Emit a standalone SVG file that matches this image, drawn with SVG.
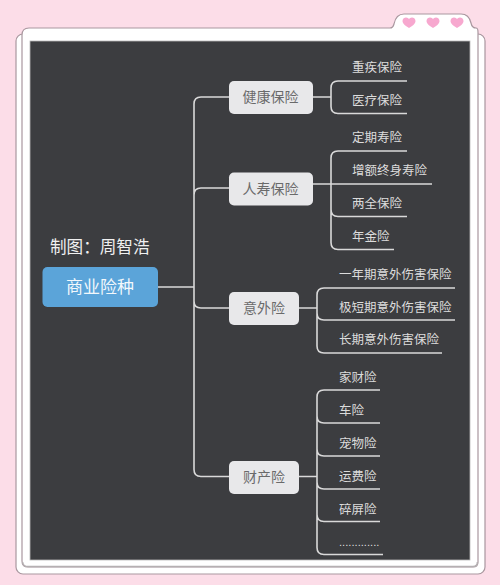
<svg xmlns="http://www.w3.org/2000/svg" width="500" height="585" viewBox="0 0 500 585">
<style>
text{font-family:"Noto Sans CJK SC","Noto Sans",sans-serif}
.frame{fill:#fff;stroke:#a9979f;stroke-width:1.2}
.c{fill:none;stroke:#d9d9d9;stroke-width:1.6}
.l{font-size:12.500px;fill:#dcdcdc}
.b rect{fill:#e8e8ea}
.b text{font-size:14px;fill:#6a6a6a;text-anchor:middle}
.h{fill:#f7a8cf}
</style>
<defs><path id="heart" d="M0 5.500C-3 3.500-6.500 1.500-6.500-1.500C-6.500-4 -4.500-5-3-5C-1.500-5-.5-4.200 0-3.200C.5-4.200 1.500-5 3-5C4.500-5 6.500-4 6.500-1.500C6.500 1.500 3 3.500 0 5.500Z"/></defs>
<rect width="500" height="585" fill="#fcdde8"/>
<g id="frame">
<rect class="frame" x="16" y="34" width="469" height="540" rx="7"/>
<path class="frame" d="M22 35Q22 28 29 28H390Q393 28 394 24Q396 14 404 14H461Q469 14 471 23Q472 28 476 28Q478 28 478 32V562Q478 567 473 567H28Q22 567 22 561Z"/>
<path d="M22.600 562Q23 566.500 28 566.600H473Q477.400 566.500 477.400 562" fill="none" stroke="#b5b0b2" stroke-width="1.500"/>
<rect x="30" y="41" width="440" height="519" fill="#3c3d40" stroke="#b8b8b8" stroke-width=".8"/>
<use href="#heart" class="h" x="409" y="22.500"/>
<use href="#heart" class="h" x="433" y="22.500"/>
<use href="#heart" class="h" x="457" y="22.500"/>
</g>
<g id="connectors">
<path class="c" d="M158 287H194M229 97H201Q194 97 194 104V469.500Q194 476.500 201 476.500H229M194 195Q194 188 201 188H229M194 301Q194 308 201 308H229"/>
<path class="c" d="M313 97H331M407 81H338Q331 81 331 88V106.500Q331 113.500 338 113.500H407"/>
<path class="c" d="M313 184H432M407 151H338Q331 151 331 158V242.500Q331 249.500 338 249.500H394M331 209.500Q331 216.500 338 216.500H407"/>
<path class="c" d="M299 308H317M455 288H324Q317 288 317 295V346Q317 353 324 353H442M317 313Q317 320 324 320H455"/>
<path class="c" d="M299 476.500H317M380 390H324Q317 390 317 397V547.500Q317 554.500 324 554.500H383M317 416Q317 423 324 423H380M317 449Q317 456 324 456H380M317 482Q317 489 324 489H380M317 514.500Q317 521.500 324 521.500H380"/>
</g>
<g id="root"><rect x="42.500" y="267" width="115.500" height="40" rx="5" fill="#5ba4d9"/><text x="100" y="292.500" font-size="17" fill="#f2f8fc" text-anchor="middle">商业险种</text></g>
<g id="credit"><text x="50" y="252.500" font-size="16.600" fill="#f0f0f0">制图：周智浩</text></g>
<g id="b1" class="b"><rect x="229" y="81" width="84" height="33" rx="5"/><text x="270.500" y="102">健康保险</text></g>
<g id="b2" class="b"><rect x="229" y="172.500" width="84" height="33" rx="5"/><text x="270.500" y="193.500">人寿保险</text></g>
<g id="b3" class="b"><rect x="229" y="292" width="70" height="33" rx="5"/><text x="264" y="313">意外险</text></g>
<g id="b4" class="b"><rect x="229" y="461" width="70" height="33" rx="5"/><text x="264" y="482">财产险</text></g>
<g id="leaves">
<g id="n1"><text class="l" x="352" y="71.500">重疾保险</text></g>
<g id="n2"><text class="l" x="352" y="104.500">医疗保险</text></g>
<g id="n3"><text class="l" x="352" y="142">定期寿险</text></g>
<g id="n4"><text class="l" x="352" y="174.500">增额终身寿险</text></g>
<g id="n5"><text class="l" x="352" y="207.500">两全保险</text></g>
<g id="n6"><text class="l" x="352" y="240.500">年金险</text></g>
<g id="n7"><text class="l" x="339" y="278.500">一年期意外伤害保险</text></g>
<g id="n8"><text class="l" x="339" y="311.500">极短期意外伤害保险</text></g>
<g id="n9"><text class="l" x="339" y="343.500">长期意外伤害保险</text></g>
<g id="n10"><text class="l" x="339" y="381.500">家财险</text></g>
<g id="n11"><text class="l" x="339" y="414.500">车险</text></g>
<g id="n12"><text class="l" x="339" y="447.500">宠物险</text></g>
<g id="n13"><text class="l" x="339" y="480.500">运费险</text></g>
<g id="n14"><text class="l" x="339" y="513.500">碎屏险</text></g>
<g id="n15"><text x="339" y="546" fill="#dcdcdc" style="font-family:'Liberation Sans',sans-serif;font-size:11.200px">.............</text></g>
</g>
</svg>
